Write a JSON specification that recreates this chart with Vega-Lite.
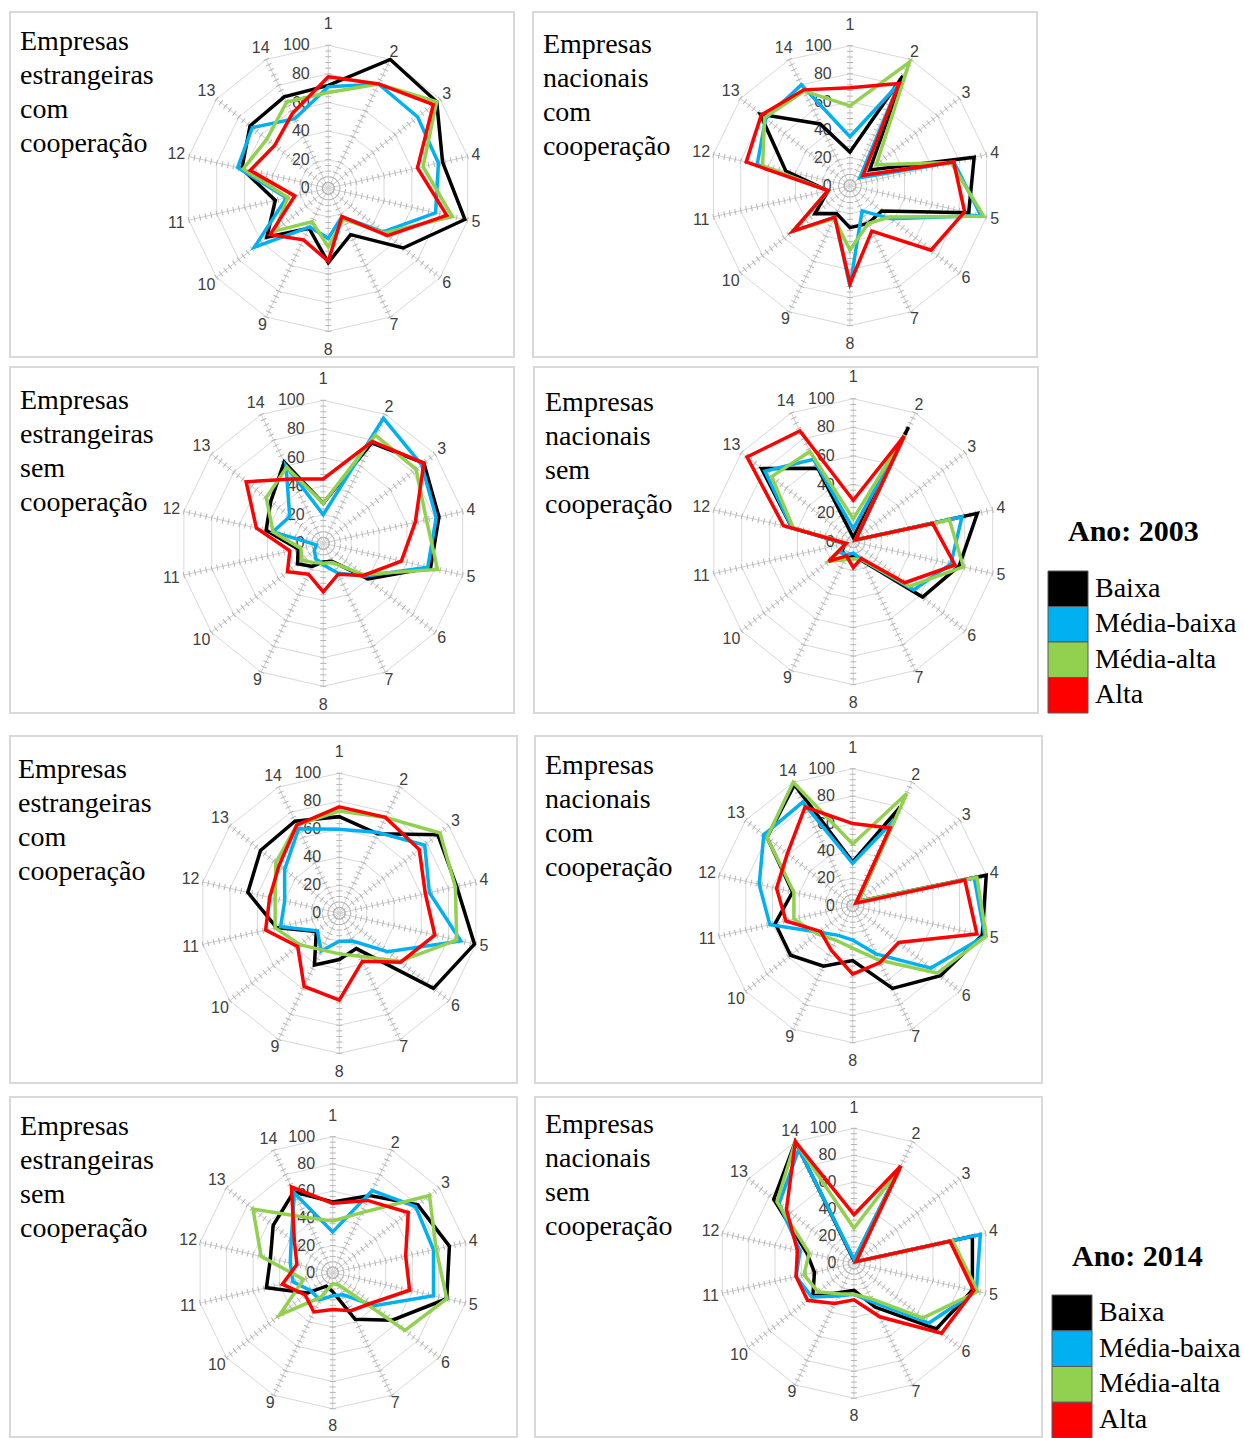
{
"$schema":"https://vega.github.io/schema/vega-lite/v6.json",
"padding":{"left":9,"top":11,"right":0,"bottom":0},
"background":"white",
"config":{"view":{"stroke":"#d9d9d9","strokeWidth":2},"concat":{"spacing":20}},
"datasets":{
"rings":[{"r":20,"k":[1,2,3,4,5,6,7,8,9,10,11,12,13,14]},{"r":40,"k":[1,2,3,4,5,6,7,8,9,10,11,12,13,14]},{"r":60,"k":[1,2,3,4,5,6,7,8,9,10,11,12,13,14]},{"r":80,"k":[1,2,3,4,5,6,7,8,9,10,11,12,13,14]},{"r":100,"k":[1,2,3,4,5,6,7,8,9,10,11,12,13,14]}],
"spokes":[{"k":1},{"k":2},{"k":3},{"k":4},{"k":5},{"k":6},{"k":7},{"k":8},{"k":9},{"k":10},{"k":11},{"k":12},{"k":13},{"k":14}],
"ticks":[
{"k":1,"t":[4,8,12,16,20,24,28,32,36,40,44,48,52,56,60,64,68,72,76,80,84,88,92,96,100]},
{"k":2,"t":[4,8,12,16,20,24,28,32,36,40,44,48,52,56,60,64,68,72,76,80,84,88,92,96,100]},
{"k":3,"t":[4,8,12,16,20,24,28,32,36,40,44,48,52,56,60,64,68,72,76,80,84,88,92,96,100]},
{"k":4,"t":[4,8,12,16,20,24,28,32,36,40,44,48,52,56,60,64,68,72,76,80,84,88,92,96,100]},
{"k":5,"t":[4,8,12,16,20,24,28,32,36,40,44,48,52,56,60,64,68,72,76,80,84,88,92,96,100]},
{"k":6,"t":[4,8,12,16,20,24,28,32,36,40,44,48,52,56,60,64,68,72,76,80,84,88,92,96,100]},
{"k":7,"t":[4,8,12,16,20,24,28,32,36,40,44,48,52,56,60,64,68,72,76,80,84,88,92,96,100]},
{"k":8,"t":[4,8,12,16,20,24,28,32,36,40,44,48,52,56,60,64,68,72,76,80,84,88,92,96,100]},
{"k":9,"t":[4,8,12,16,20,24,28,32,36,40,44,48,52,56,60,64,68,72,76,80,84,88,92,96,100]},
{"k":10,"t":[4,8,12,16,20,24,28,32,36,40,44,48,52,56,60,64,68,72,76,80,84,88,92,96,100]},
{"k":11,"t":[4,8,12,16,20,24,28,32,36,40,44,48,52,56,60,64,68,72,76,80,84,88,92,96,100]},
{"k":12,"t":[4,8,12,16,20,24,28,32,36,40,44,48,52,56,60,64,68,72,76,80,84,88,92,96,100]},
{"k":13,"t":[4,8,12,16,20,24,28,32,36,40,44,48,52,56,60,64,68,72,76,80,84,88,92,96,100]},
{"k":14,"t":[4,8,12,16,20,24,28,32,36,40,44,48,52,56,60,64,68,72,76,80,84,88,92,96,100]}],
"levels":[{"r":0},{"r":20},{"r":40},{"r":60},{"r":80},{"r":100}],
"legend":[{"s":"Baixa"},{"s":"Média-baixa"},{"s":"Média-alta"},{"s":"Alta"}],
"vals":[
{"p":1,"s":"Baixa","k":1,"v":72},{"p":1,"s":"Baixa","k":2,"v":100},{"p":1,"s":"Baixa","k":3,"v":97},{"p":1,"s":"Baixa","k":4,"v":82},{"p":1,"s":"Baixa","k":5,"v":98},{"p":1,"s":"Baixa","k":6,"v":67},{"p":1,"s":"Baixa","k":7,"v":36},{"p":1,"s":"Baixa","k":8,"v":52},{"p":1,"s":"Baixa","k":9,"v":31},{"p":1,"s":"Baixa","k":10,"v":55},{"p":1,"s":"Baixa","k":11,"v":38},{"p":1,"s":"Baixa","k":12,"v":62},{"p":1,"s":"Baixa","k":13,"v":70},{"p":1,"s":"Baixa","k":14,"v":71},
{"p":1,"s":"Média-baixa","k":1,"v":71},{"p":1,"s":"Média-baixa","k":2,"v":81},{"p":1,"s":"Média-baixa","k":3,"v":80},{"p":1,"s":"Média-baixa","k":4,"v":79},{"p":1,"s":"Média-baixa","k":5,"v":77},{"p":1,"s":"Média-baixa","k":6,"v":49},{"p":1,"s":"Média-baixa","k":7,"v":22},{"p":1,"s":"Média-baixa","k":8,"v":35},{"p":1,"s":"Média-baixa","k":9,"v":30},{"p":1,"s":"Média-baixa","k":10,"v":66},{"p":1,"s":"Média-baixa","k":11,"v":30},{"p":1,"s":"Média-baixa","k":12,"v":65},{"p":1,"s":"Média-baixa","k":13,"v":68},{"p":1,"s":"Média-baixa","k":14,"v":54},
{"p":1,"s":"Média-alta","k":1,"v":67},{"p":1,"s":"Média-alta","k":2,"v":81},{"p":1,"s":"Média-alta","k":3,"v":97},{"p":1,"s":"Média-alta","k":4,"v":68},{"p":1,"s":"Média-alta","k":5,"v":89},{"p":1,"s":"Média-alta","k":6,"v":50},{"p":1,"s":"Média-alta","k":7,"v":24},{"p":1,"s":"Média-alta","k":8,"v":41},{"p":1,"s":"Média-alta","k":9,"v":26},{"p":1,"s":"Média-alta","k":10,"v":48},{"p":1,"s":"Média-alta","k":11,"v":29},{"p":1,"s":"Média-alta","k":12,"v":61},{"p":1,"s":"Média-alta","k":13,"v":55},{"p":1,"s":"Média-alta","k":14,"v":67},
{"p":1,"s":"Alta","k":1,"v":78},{"p":1,"s":"Alta","k":2,"v":81},{"p":1,"s":"Alta","k":3,"v":94},{"p":1,"s":"Alta","k":4,"v":64},{"p":1,"s":"Alta","k":5,"v":85},{"p":1,"s":"Alta","k":6,"v":53},{"p":1,"s":"Alta","k":7,"v":22},{"p":1,"s":"Alta","k":8,"v":51},{"p":1,"s":"Alta","k":9,"v":40},{"p":1,"s":"Alta","k":10,"v":52},{"p":1,"s":"Alta","k":11,"v":24},{"p":1,"s":"Alta","k":12,"v":56},{"p":1,"s":"Alta","k":13,"v":48},{"p":1,"s":"Alta","k":14,"v":58},
{"p":2,"s":"Baixa","k":1,"v":24},{"p":2,"s":"Baixa","k":2,"v":87},{"p":2,"s":"Baixa","k":3,"v":18},{"p":2,"s":"Baixa","k":4,"v":91},{"p":2,"s":"Baixa","k":5,"v":87},{"p":2,"s":"Baixa","k":6,"v":29},{"p":2,"s":"Baixa","k":7,"v":30},{"p":2,"s":"Baixa","k":8,"v":30},{"p":2,"s":"Baixa","k":9,"v":22},{"p":2,"s":"Baixa","k":10,"v":32},{"p":2,"s":"Baixa","k":11,"v":16},{"p":2,"s":"Baixa","k":12,"v":47},{"p":2,"s":"Baixa","k":13,"v":82},{"p":2,"s":"Baixa","k":14,"v":49},
{"p":2,"s":"Média-baixa","k":1,"v":35},{"p":2,"s":"Média-baixa","k":2,"v":81},{"p":2,"s":"Média-baixa","k":3,"v":9},{"p":2,"s":"Média-baixa","k":4,"v":76},{"p":2,"s":"Média-baixa","k":5,"v":96},{"p":2,"s":"Média-baixa","k":6,"v":38},{"p":2,"s":"Média-baixa","k":7,"v":20},{"p":2,"s":"Média-baixa","k":8,"v":72},{"p":2,"s":"Média-baixa","k":9,"v":25},{"p":2,"s":"Média-baixa","k":10,"v":52},{"p":2,"s":"Média-baixa","k":11,"v":16},{"p":2,"s":"Média-baixa","k":12,"v":68},{"p":2,"s":"Média-baixa","k":13,"v":77},{"p":2,"s":"Média-baixa","k":14,"v":80},
{"p":2,"s":"Média-alta","k":1,"v":57},{"p":2,"s":"Média-alta","k":2,"v":98},{"p":2,"s":"Média-alta","k":3,"v":24},{"p":2,"s":"Média-alta","k":4,"v":74},{"p":2,"s":"Média-alta","k":5,"v":98},{"p":2,"s":"Média-alta","k":6,"v":36},{"p":2,"s":"Média-alta","k":7,"v":30},{"p":2,"s":"Média-alta","k":8,"v":46},{"p":2,"s":"Média-alta","k":9,"v":26},{"p":2,"s":"Média-alta","k":10,"v":52},{"p":2,"s":"Média-alta","k":11,"v":16},{"p":2,"s":"Média-alta","k":12,"v":64},{"p":2,"s":"Média-alta","k":13,"v":78},{"p":2,"s":"Média-alta","k":14,"v":75},
{"p":2,"s":"Alta","k":1,"v":70},{"p":2,"s":"Alta","k":2,"v":81},{"p":2,"s":"Alta","k":3,"v":12},{"p":2,"s":"Alta","k":4,"v":76},{"p":2,"s":"Alta","k":5,"v":84},{"p":2,"s":"Alta","k":6,"v":74},{"p":2,"s":"Alta","k":7,"v":36},{"p":2,"s":"Alta","k":8,"v":70},{"p":2,"s":"Alta","k":9,"v":25},{"p":2,"s":"Alta","k":10,"v":52},{"p":2,"s":"Alta","k":11,"v":16},{"p":2,"s":"Alta","k":12,"v":76},{"p":2,"s":"Alta","k":13,"v":81},{"p":2,"s":"Alta","k":14,"v":76},
{"p":3,"s":"Baixa","k":1,"v":28},{"p":3,"s":"Baixa","k":2,"v":78},{"p":3,"s":"Baixa","k":3,"v":90},{"p":3,"s":"Baixa","k":4,"v":83},{"p":3,"s":"Baixa","k":5,"v":77},{"p":3,"s":"Baixa","k":6,"v":40},{"p":3,"s":"Baixa","k":7,"v":14},{"p":3,"s":"Baixa","k":8,"v":13},{"p":3,"s":"Baixa","k":9,"v":18},{"p":3,"s":"Baixa","k":10,"v":23},{"p":3,"s":"Baixa","k":11,"v":18},{"p":3,"s":"Baixa","k":12,"v":41},{"p":3,"s":"Baixa","k":13,"v":47},{"p":3,"s":"Baixa","k":14,"v":63},
{"p":3,"s":"Média-baixa","k":1,"v":20},{"p":3,"s":"Média-baixa","k":2,"v":97},{"p":3,"s":"Média-baixa","k":3,"v":88},{"p":3,"s":"Média-baixa","k":4,"v":81},{"p":3,"s":"Média-baixa","k":5,"v":75},{"p":3,"s":"Média-baixa","k":6,"v":37},{"p":3,"s":"Média-baixa","k":7,"v":23},{"p":3,"s":"Média-baixa","k":8,"v":15},{"p":3,"s":"Média-baixa","k":9,"v":12},{"p":3,"s":"Média-baixa","k":10,"v":8},{"p":3,"s":"Média-baixa","k":11,"v":5},{"p":3,"s":"Média-baixa","k":12,"v":36},{"p":3,"s":"Média-baixa","k":13,"v":30},{"p":3,"s":"Média-baixa","k":14,"v":60},
{"p":3,"s":"Média-alta","k":1,"v":28},{"p":3,"s":"Média-alta","k":2,"v":84},{"p":3,"s":"Média-alta","k":3,"v":83},{"p":3,"s":"Média-alta","k":4,"v":74},{"p":3,"s":"Média-alta","k":5,"v":82},{"p":3,"s":"Média-alta","k":6,"v":35},{"p":3,"s":"Média-alta","k":7,"v":15},{"p":3,"s":"Média-alta","k":8,"v":14},{"p":3,"s":"Média-alta","k":9,"v":15},{"p":3,"s":"Média-alta","k":10,"v":19},{"p":3,"s":"Média-alta","k":11,"v":16},{"p":3,"s":"Média-alta","k":12,"v":36},{"p":3,"s":"Média-alta","k":13,"v":51},{"p":3,"s":"Média-alta","k":14,"v":59},
{"p":3,"s":"Alta","k":1,"v":45},{"p":3,"s":"Alta","k":2,"v":79},{"p":3,"s":"Alta","k":3,"v":90},{"p":3,"s":"Alta","k":4,"v":66},{"p":3,"s":"Alta","k":5,"v":56},{"p":3,"s":"Alta","k":6,"v":36},{"p":3,"s":"Alta","k":7,"v":24},{"p":3,"s":"Alta","k":8,"v":34},{"p":3,"s":"Alta","k":9,"v":24},{"p":3,"s":"Alta","k":10,"v":32},{"p":3,"s":"Alta","k":11,"v":24},{"p":3,"s":"Alta","k":12,"v":48},{"p":3,"s":"Alta","k":13,"v":69},{"p":3,"s":"Alta","k":14,"v":50},
{"p":4,"s":"Baixa","k":1,"v":3},{"p":4,"s":"Baixa","k":2,"v":89},{"p":4,"s":"Baixa","k":3,"v":2},{"p":4,"s":"Baixa","k":4,"v":89},{"p":4,"s":"Baixa","k":5,"v":76},{"p":4,"s":"Baixa","k":6,"v":62},{"p":4,"s":"Baixa","k":7,"v":15},{"p":4,"s":"Baixa","k":8,"v":10},{"p":4,"s":"Baixa","k":9,"v":12},{"p":4,"s":"Baixa","k":10,"v":10},{"p":4,"s":"Baixa","k":11,"v":6},{"p":4,"s":"Baixa","k":12,"v":44},{"p":4,"s":"Baixa","k":13,"v":82},{"p":4,"s":"Baixa","k":14,"v":57},
{"p":4,"s":"Média-baixa","k":1,"v":9},{"p":4,"s":"Média-baixa","k":2,"v":82},{"p":4,"s":"Média-baixa","k":3,"v":2},{"p":4,"s":"Média-baixa","k":4,"v":78},{"p":4,"s":"Média-baixa","k":5,"v":70},{"p":4,"s":"Média-baixa","k":6,"v":54},{"p":4,"s":"Média-baixa","k":7,"v":14},{"p":4,"s":"Média-baixa","k":8,"v":8},{"p":4,"s":"Média-baixa","k":9,"v":10},{"p":4,"s":"Média-baixa","k":10,"v":12},{"p":4,"s":"Média-baixa","k":11,"v":6},{"p":4,"s":"Média-baixa","k":12,"v":44},{"p":4,"s":"Média-baixa","k":13,"v":79},{"p":4,"s":"Média-baixa","k":14,"v":64},
{"p":4,"s":"Média-alta","k":1,"v":16},{"p":4,"s":"Média-alta","k":2,"v":83},{"p":4,"s":"Média-alta","k":3,"v":2},{"p":4,"s":"Média-alta","k":4,"v":69},{"p":4,"s":"Média-alta","k":5,"v":79},{"p":4,"s":"Média-alta","k":6,"v":50},{"p":4,"s":"Média-alta","k":7,"v":14},{"p":4,"s":"Média-alta","k":8,"v":12},{"p":4,"s":"Média-alta","k":9,"v":14},{"p":4,"s":"Média-alta","k":10,"v":22},{"p":4,"s":"Média-alta","k":11,"v":5},{"p":4,"s":"Média-alta","k":12,"v":43},{"p":4,"s":"Média-alta","k":13,"v":73},{"p":4,"s":"Média-alta","k":14,"v":70},
{"p":4,"s":"Alta","k":1,"v":29},{"p":4,"s":"Alta","k":2,"v":82},{"p":4,"s":"Alta","k":3,"v":2},{"p":4,"s":"Alta","k":4,"v":57},{"p":4,"s":"Alta","k":5,"v":73},{"p":4,"s":"Alta","k":6,"v":46},{"p":4,"s":"Alta","k":7,"v":13},{"p":4,"s":"Alta","k":8,"v":18},{"p":4,"s":"Alta","k":9,"v":11},{"p":4,"s":"Alta","k":10,"v":22},{"p":4,"s":"Alta","k":11,"v":5},{"p":4,"s":"Alta","k":12,"v":50},{"p":4,"s":"Alta","k":13,"v":95},{"p":4,"s":"Alta","k":14,"v":86},
{"p":5,"s":"Baixa","k":1,"v":69},{"p":5,"s":"Baixa","k":2,"v":63},{"p":5,"s":"Baixa","k":3,"v":90},{"p":5,"s":"Baixa","k":4,"v":86},{"p":5,"s":"Baixa","k":5,"v":99},{"p":5,"s":"Baixa","k":6,"v":86},{"p":5,"s":"Baixa","k":7,"v":28},{"p":5,"s":"Baixa","k":8,"v":33},{"p":5,"s":"Baixa","k":9,"v":41},{"p":5,"s":"Baixa","k":10,"v":21},{"p":5,"s":"Baixa","k":11,"v":46},{"p":5,"s":"Baixa","k":12,"v":67},{"p":5,"s":"Baixa","k":13,"v":72},{"p":5,"s":"Baixa","k":14,"v":73},
{"p":5,"s":"Média-baixa","k":1,"v":60},{"p":5,"s":"Média-baixa","k":2,"v":64},{"p":5,"s":"Média-baixa","k":3,"v":78},{"p":5,"s":"Média-baixa","k":4,"v":66},{"p":5,"s":"Média-baixa","k":5,"v":89},{"p":5,"s":"Média-baixa","k":6,"v":44},{"p":5,"s":"Média-baixa","k":7,"v":22},{"p":5,"s":"Média-baixa","k":8,"v":20},{"p":5,"s":"Média-baixa","k":9,"v":30},{"p":5,"s":"Média-baixa","k":10,"v":20},{"p":5,"s":"Média-baixa","k":11,"v":43},{"p":5,"s":"Média-baixa","k":12,"v":40},{"p":5,"s":"Média-baixa","k":13,"v":50},{"p":5,"s":"Média-baixa","k":14,"v":67},
{"p":5,"s":"Média-alta","k":1,"v":73},{"p":5,"s":"Média-alta","k":2,"v":76},{"p":5,"s":"Média-alta","k":3,"v":92},{"p":5,"s":"Média-alta","k":4,"v":85},{"p":5,"s":"Média-alta","k":5,"v":86},{"p":5,"s":"Média-alta","k":6,"v":55},{"p":5,"s":"Média-alta","k":7,"v":34},{"p":5,"s":"Média-alta","k":8,"v":29},{"p":5,"s":"Média-alta","k":9,"v":29},{"p":5,"s":"Média-alta","k":10,"v":36},{"p":5,"s":"Média-alta","k":11,"v":47},{"p":5,"s":"Média-alta","k":12,"v":47},{"p":5,"s":"Média-alta","k":13,"v":58},{"p":5,"s":"Média-alta","k":14,"v":70},
{"p":5,"s":"Alta","k":1,"v":76},{"p":5,"s":"Alta","k":2,"v":76},{"p":5,"s":"Alta","k":3,"v":73},{"p":5,"s":"Alta","k":4,"v":63},{"p":5,"s":"Alta","k":5,"v":70},{"p":5,"s":"Alta","k":6,"v":56},{"p":5,"s":"Alta","k":7,"v":38},{"p":5,"s":"Alta","k":8,"v":62},{"p":5,"s":"Alta","k":9,"v":58},{"p":5,"s":"Alta","k":10,"v":38},{"p":5,"s":"Alta","k":11,"v":54},{"p":5,"s":"Alta","k":12,"v":51},{"p":5,"s":"Alta","k":13,"v":55},{"p":5,"s":"Alta","k":14,"v":70},
{"p":6,"s":"Baixa","k":1,"v":32},{"p":6,"s":"Baixa","k":2,"v":80},{"p":6,"s":"Baixa","k":3,"v":5},{"p":6,"s":"Baixa","k":4,"v":100},{"p":6,"s":"Baixa","k":5,"v":97},{"p":6,"s":"Baixa","k":6,"v":82},{"p":6,"s":"Baixa","k":7,"v":67},{"p":6,"s":"Baixa","k":8,"v":40},{"p":6,"s":"Baixa","k":9,"v":49},{"p":6,"s":"Baixa","k":10,"v":58},{"p":6,"s":"Baixa","k":11,"v":58},{"p":6,"s":"Baixa","k":12,"v":45},{"p":6,"s":"Baixa","k":13,"v":80},{"p":6,"s":"Baixa","k":14,"v":98},
{"p":6,"s":"Média-baixa","k":1,"v":31},{"p":6,"s":"Média-baixa","k":2,"v":69},{"p":6,"s":"Média-baixa","k":3,"v":5},{"p":6,"s":"Média-baixa","k":4,"v":91},{"p":6,"s":"Média-baixa","k":5,"v":99},{"p":6,"s":"Média-baixa","k":6,"v":73},{"p":6,"s":"Média-baixa","k":7,"v":39},{"p":6,"s":"Média-baixa","k":8,"v":25},{"p":6,"s":"Média-baixa","k":9,"v":24},{"p":6,"s":"Média-baixa","k":10,"v":31},{"p":6,"s":"Média-baixa","k":11,"v":62},{"p":6,"s":"Média-baixa","k":12,"v":70},{"p":6,"s":"Média-baixa","k":13,"v":83},{"p":6,"s":"Média-baixa","k":14,"v":84},
{"p":6,"s":"Média-alta","k":1,"v":45},{"p":6,"s":"Média-alta","k":2,"v":91},{"p":6,"s":"Média-alta","k":3,"v":5},{"p":6,"s":"Média-alta","k":4,"v":93},{"p":6,"s":"Média-alta","k":5,"v":100},{"p":6,"s":"Média-alta","k":6,"v":79},{"p":6,"s":"Média-alta","k":7,"v":44},{"p":6,"s":"Média-alta","k":8,"v":31},{"p":6,"s":"Média-alta","k":9,"v":28},{"p":6,"s":"Média-alta","k":10,"v":33},{"p":6,"s":"Média-alta","k":11,"v":44},{"p":6,"s":"Média-alta","k":12,"v":44},{"p":6,"s":"Média-alta","k":13,"v":80},{"p":6,"s":"Média-alta","k":14,"v":100},
{"p":6,"s":"Alta","k":1,"v":60},{"p":6,"s":"Alta","k":2,"v":63},{"p":6,"s":"Alta","k":3,"v":3},{"p":6,"s":"Alta","k":4,"v":84},{"p":6,"s":"Alta","k":5,"v":93},{"p":6,"s":"Alta","k":6,"v":43},{"p":6,"s":"Alta","k":7,"v":46},{"p":6,"s":"Alta","k":8,"v":50},{"p":6,"s":"Alta","k":9,"v":36},{"p":6,"s":"Alta","k":10,"v":30},{"p":6,"s":"Alta","k":11,"v":50},{"p":6,"s":"Alta","k":12,"v":57},{"p":6,"s":"Alta","k":13,"v":61},{"p":6,"s":"Alta","k":14,"v":80},
{"p":7,"s":"Baixa","k":1,"v":52},{"p":7,"s":"Baixa","k":2,"v":63},{"p":7,"s":"Baixa","k":3,"v":80},{"p":7,"s":"Baixa","k":4,"v":88},{"p":7,"s":"Baixa","k":5,"v":86},{"p":7,"s":"Baixa","k":6,"v":56},{"p":7,"s":"Baixa","k":7,"v":38},{"p":7,"s":"Baixa","k":8,"v":14},{"p":7,"s":"Baixa","k":9,"v":11},{"p":7,"s":"Baixa","k":10,"v":24},{"p":7,"s":"Baixa","k":11,"v":50},{"p":7,"s":"Baixa","k":12,"v":47},{"p":7,"s":"Baixa","k":13,"v":56},{"p":7,"s":"Baixa","k":14,"v":66},
{"p":7,"s":"Média-baixa","k":1,"v":30},{"p":7,"s":"Média-baixa","k":2,"v":67},{"p":7,"s":"Média-baixa","k":3,"v":78},{"p":7,"s":"Média-baixa","k":4,"v":76},{"p":7,"s":"Média-baixa","k":5,"v":76},{"p":7,"s":"Média-baixa","k":6,"v":39},{"p":7,"s":"Média-baixa","k":7,"v":18},{"p":7,"s":"Média-baixa","k":8,"v":17},{"p":7,"s":"Média-baixa","k":9,"v":22},{"p":7,"s":"Média-baixa","k":10,"v":21},{"p":7,"s":"Média-baixa","k":11,"v":30},{"p":7,"s":"Média-baixa","k":12,"v":32},{"p":7,"s":"Média-baixa","k":13,"v":39},{"p":7,"s":"Média-baixa","k":14,"v":65},
{"p":7,"s":"Média-alta","k":1,"v":38},{"p":7,"s":"Média-alta","k":2,"v":49},{"p":7,"s":"Média-alta","k":3,"v":91},{"p":7,"s":"Média-alta","k":4,"v":78},{"p":7,"s":"Média-alta","k":5,"v":86},{"p":7,"s":"Média-alta","k":6,"v":68},{"p":7,"s":"Média-alta","k":7,"v":10},{"p":7,"s":"Média-alta","k":8,"v":8},{"p":7,"s":"Média-alta","k":9,"v":20},{"p":7,"s":"Média-alta","k":10,"v":50},{"p":7,"s":"Média-alta","k":11,"v":22},{"p":7,"s":"Média-alta","k":12,"v":54},{"p":7,"s":"Média-alta","k":13,"v":75},{"p":7,"s":"Média-alta","k":14,"v":45},
{"p":7,"s":"Alta","k":1,"v":51},{"p":7,"s":"Alta","k":2,"v":59},{"p":7,"s":"Alta","k":3,"v":71},{"p":7,"s":"Alta","k":4,"v":55},{"p":7,"s":"Alta","k":5,"v":58},{"p":7,"s":"Alta","k":6,"v":36},{"p":7,"s":"Alta","k":7,"v":31},{"p":7,"s":"Alta","k":8,"v":27},{"p":7,"s":"Alta","k":9,"v":32},{"p":7,"s":"Alta","k":10,"v":26},{"p":7,"s":"Alta","k":11,"v":38},{"p":7,"s":"Alta","k":12,"v":27},{"p":7,"s":"Alta","k":13,"v":36},{"p":7,"s":"Alta","k":14,"v":70},
{"p":8,"s":"Baixa","k":1,"v":2},{"p":8,"s":"Baixa","k":2,"v":78},{"p":8,"s":"Baixa","k":3,"v":2},{"p":8,"s":"Baixa","k":4,"v":90},{"p":8,"s":"Baixa","k":5,"v":90},{"p":8,"s":"Baixa","k":6,"v":78},{"p":8,"s":"Baixa","k":7,"v":36},{"p":8,"s":"Baixa","k":8,"v":20},{"p":8,"s":"Baixa","k":9,"v":24},{"p":8,"s":"Baixa","k":10,"v":39},{"p":8,"s":"Baixa","k":11,"v":30},{"p":8,"s":"Baixa","k":12,"v":36},{"p":8,"s":"Baixa","k":13,"v":76},{"p":8,"s":"Baixa","k":14,"v":100},
{"p":8,"s":"Média-baixa","k":1,"v":3},{"p":8,"s":"Média-baixa","k":2,"v":78},{"p":8,"s":"Média-baixa","k":3,"v":2},{"p":8,"s":"Média-baixa","k":4,"v":96},{"p":8,"s":"Média-baixa","k":5,"v":93},{"p":8,"s":"Média-baixa","k":6,"v":71},{"p":8,"s":"Média-baixa","k":7,"v":32},{"p":8,"s":"Média-baixa","k":8,"v":23},{"p":8,"s":"Média-baixa","k":9,"v":27},{"p":8,"s":"Média-baixa","k":10,"v":40},{"p":8,"s":"Média-baixa","k":11,"v":44},{"p":8,"s":"Média-baixa","k":12,"v":41},{"p":8,"s":"Média-baixa","k":13,"v":71},{"p":8,"s":"Média-baixa","k":14,"v":94},
{"p":8,"s":"Média-alta","k":1,"v":26},{"p":8,"s":"Média-alta","k":2,"v":77},{"p":8,"s":"Média-alta","k":3,"v":2},{"p":8,"s":"Média-alta","k":4,"v":75},{"p":8,"s":"Média-alta","k":5,"v":94},{"p":8,"s":"Média-alta","k":6,"v":65},{"p":8,"s":"Média-alta","k":7,"v":29},{"p":8,"s":"Média-alta","k":8,"v":23},{"p":8,"s":"Média-alta","k":9,"v":25},{"p":8,"s":"Média-alta","k":10,"v":34},{"p":8,"s":"Média-alta","k":11,"v":38},{"p":8,"s":"Média-alta","k":12,"v":34},{"p":8,"s":"Média-alta","k":13,"v":73},{"p":8,"s":"Média-alta","k":14,"v":100},
{"p":8,"s":"Alta","k":1,"v":36},{"p":8,"s":"Alta","k":2,"v":80},{"p":8,"s":"Alta","k":3,"v":2},{"p":8,"s":"Alta","k":4,"v":73},{"p":8,"s":"Alta","k":5,"v":91},{"p":8,"s":"Alta","k":6,"v":83},{"p":8,"s":"Alta","k":7,"v":44},{"p":8,"s":"Alta","k":8,"v":27},{"p":8,"s":"Alta","k":9,"v":33},{"p":8,"s":"Alta","k":10,"v":44},{"p":8,"s":"Alta","k":11,"v":44},{"p":8,"s":"Alta","k":12,"v":43},{"p":8,"s":"Alta","k":13,"v":64},{"p":8,"s":"Alta","k":14,"v":100}
]},
"spacing":21,
"vconcat":[
{"spacing":8,"vconcat":[
{"spacing":19,"bounds":"flush","hconcat":[
{"width":504,"height":345,
"encoding":{"x":{"field":"px","type":"quantitative","scale":{"domain":[-222.6,129.9],"nice":false,"zero":false},"axis":null},"y":{"field":"py","type":"quantitative","scale":{"domain":[-118.0,123.3],"nice":false,"zero":false},"axis":null}},
"layer":[
{"data":{"name":"rings"},"transform":[{"flatten":["k"]},{"calculate":"(datum.k-1)*2*PI/14","as":"a"},{"calculate":"datum.r*sin(datum.a)","as":"px"},{"calculate":"datum.r*cos(datum.a)","as":"py"}],"mark":{"type":"line","interpolate":"linear-closed","stroke":"#d9d9d9","strokeWidth":1},"encoding":{"detail":{"field":"r","type":"quantitative"},"order":{"field":"k","type":"quantitative"}}},
{"data":{"name":"spokes"},"transform":[{"calculate":"(datum.k-1)*2*PI/14","as":"a"},{"calculate":"0","as":"px"},{"calculate":"0","as":"py"},{"calculate":"100*sin(datum.a)","as":"ex"},{"calculate":"100*cos(datum.a)","as":"ey"}],"mark":{"type":"rule","stroke":"#d0d0d0","strokeWidth":1},"encoding":{"x2":{"field":"ex"},"y2":{"field":"ey"}}},
{"data":{"name":"ticks"},"transform":[{"flatten":["t"]},{"calculate":"(datum.k-1)*2*PI/14","as":"a"},{"calculate":"datum.t*sin(datum.a)","as":"px"},{"calculate":"datum.t*cos(datum.a)","as":"py"},{"calculate":"(datum.k-1)*360/14","as":"ang"}],"mark":{"type":"point","shape":"stroke","size":36,"filled":false,"stroke":"#b4b4b4","strokeWidth":1,"opacity":1},"encoding":{"angle":{"field":"ang","type":"quantitative","scale":null}}},
{"data":{"name":"spokes"},"transform":[{"calculate":"(datum.k-1)*2*PI/14","as":"a"},{"calculate":"106+(datum.k==1?9:0)+(datum.k==8?7:0)+(datum.k>=10?3:0)","as":"rr"},{"calculate":"datum.rr*sin(datum.a)","as":"px"},{"calculate":"datum.rr*cos(datum.a)","as":"py"}],"mark":{"type":"text","clip":true,"font":"Liberation Sans","fontSize":16,"fill":"#404040","align":"center","baseline":"middle"},"encoding":{"text":{"field":"k","type":"nominal"}}},
{"data":{"name":"levels"},"transform":[{"calculate":"-13","as":"px"},{"calculate":"datum.r","as":"py"}],"mark":{"type":"text","font":"Liberation Sans","fontSize":16,"fill":"#404040","align":"right","baseline":"middle"},"encoding":{"text":{"field":"r","type":"nominal"}}},
{"data":{"name":"vals"},"transform":[{"filter":"datum.p==1"},{"calculate":"(datum.k-1)*2*PI/14","as":"a"},{"calculate":"datum.v*sin(datum.a)","as":"px"},{"calculate":"datum.v*cos(datum.a)","as":"py"}],"mark":{"type":"line","interpolate":"linear-closed","strokeWidth":3.5},"encoding":{"color":{"field":"s","type":"nominal","scale":{"domain":["Baixa","Média-baixa","Média-alta","Alta"],"range":["#000000","#00b0f0","#92d050","#ff0000"]},"legend":null},"order":{"field":"k","type":"quantitative"}}},
{"data":{"values":[{"t":"Empresas\nestrangeiras\ncom\ncooperação"}]},"transform":[{"calculate":"-215.6","as":"px"},{"calculate":"96.4","as":"py"}],"mark":{"type":"text","font":"Liberation Serif","fontSize":28,"lineBreak":"\n","lineHeight":34,"align":"left","baseline":"alphabetic","fill":"#000000"},"encoding":{"text":{"field":"t","type":"nominal"}}}
]},
{"width":504,"height":345,
"encoding":{"x":{"field":"px","type":"quantitative","scale":{"domain":[-226.4,133.6],"nice":false,"zero":false},"axis":null},"y":{"field":"py","type":"quantitative","scale":{"domain":[-122.4,124.1],"nice":false,"zero":false},"axis":null}},
"layer":[
{"data":{"name":"rings"},"transform":[{"flatten":["k"]},{"calculate":"(datum.k-1)*2*PI/14","as":"a"},{"calculate":"datum.r*sin(datum.a)","as":"px"},{"calculate":"datum.r*cos(datum.a)","as":"py"}],"mark":{"type":"line","interpolate":"linear-closed","stroke":"#d9d9d9","strokeWidth":1},"encoding":{"detail":{"field":"r","type":"quantitative"},"order":{"field":"k","type":"quantitative"}}},
{"data":{"name":"spokes"},"transform":[{"calculate":"(datum.k-1)*2*PI/14","as":"a"},{"calculate":"0","as":"px"},{"calculate":"0","as":"py"},{"calculate":"100*sin(datum.a)","as":"ex"},{"calculate":"100*cos(datum.a)","as":"ey"}],"mark":{"type":"rule","stroke":"#d0d0d0","strokeWidth":1},"encoding":{"x2":{"field":"ex"},"y2":{"field":"ey"}}},
{"data":{"name":"ticks"},"transform":[{"flatten":["t"]},{"calculate":"(datum.k-1)*2*PI/14","as":"a"},{"calculate":"datum.t*sin(datum.a)","as":"px"},{"calculate":"datum.t*cos(datum.a)","as":"py"},{"calculate":"(datum.k-1)*360/14","as":"ang"}],"mark":{"type":"point","shape":"stroke","size":36,"filled":false,"stroke":"#b4b4b4","strokeWidth":1,"opacity":1},"encoding":{"angle":{"field":"ang","type":"quantitative","scale":null}}},
{"data":{"name":"spokes"},"transform":[{"calculate":"(datum.k-1)*2*PI/14","as":"a"},{"calculate":"106+(datum.k==1?9:0)+(datum.k==8?7:0)+(datum.k>=10?3:0)","as":"rr"},{"calculate":"datum.rr*sin(datum.a)","as":"px"},{"calculate":"datum.rr*cos(datum.a)","as":"py"}],"mark":{"type":"text","clip":true,"font":"Liberation Sans","fontSize":16,"fill":"#404040","align":"center","baseline":"middle"},"encoding":{"text":{"field":"k","type":"nominal"}}},
{"data":{"name":"levels"},"transform":[{"calculate":"-13","as":"px"},{"calculate":"datum.r","as":"py"}],"mark":{"type":"text","font":"Liberation Sans","fontSize":16,"fill":"#404040","align":"right","baseline":"middle"},"encoding":{"text":{"field":"r","type":"nominal"}}},
{"data":{"name":"vals"},"transform":[{"filter":"datum.p==2"},{"calculate":"(datum.k-1)*2*PI/14","as":"a"},{"calculate":"datum.v*sin(datum.a)","as":"px"},{"calculate":"datum.v*cos(datum.a)","as":"py"}],"mark":{"type":"line","interpolate":"linear-closed","strokeWidth":3.5},"encoding":{"color":{"field":"s","type":"nominal","scale":{"domain":["Baixa","Média-baixa","Média-alta","Alta"],"range":["#000000","#00b0f0","#92d050","#ff0000"]},"legend":null},"order":{"field":"k","type":"quantitative"}}},
{"data":{"values":[{"t":"Empresas\nnacionais\ncom\ncooperação"}]},"transform":[{"calculate":"-219.3","as":"px"},{"calculate":"94.5","as":"py"}],"mark":{"type":"text","font":"Liberation Serif","fontSize":28,"lineBreak":"\n","lineHeight":34,"align":"left","baseline":"alphabetic","fill":"#000000"},"encoding":{"text":{"field":"t","type":"nominal"}}}
]}
]},
{"spacing":20,"bounds":"flush","hconcat":[
{"width":504,"height":346,
"encoding":{"x":{"field":"px","type":"quantitative","scale":{"domain":[-219.1,133.4],"nice":false,"zero":false},"axis":null},"y":{"field":"py","type":"quantitative","scale":{"domain":[-118.7,123.3],"nice":false,"zero":false},"axis":null}},
"layer":[
{"data":{"name":"rings"},"transform":[{"flatten":["k"]},{"calculate":"(datum.k-1)*2*PI/14","as":"a"},{"calculate":"datum.r*sin(datum.a)","as":"px"},{"calculate":"datum.r*cos(datum.a)","as":"py"}],"mark":{"type":"line","interpolate":"linear-closed","stroke":"#d9d9d9","strokeWidth":1},"encoding":{"detail":{"field":"r","type":"quantitative"},"order":{"field":"k","type":"quantitative"}}},
{"data":{"name":"spokes"},"transform":[{"calculate":"(datum.k-1)*2*PI/14","as":"a"},{"calculate":"0","as":"px"},{"calculate":"0","as":"py"},{"calculate":"100*sin(datum.a)","as":"ex"},{"calculate":"100*cos(datum.a)","as":"ey"}],"mark":{"type":"rule","stroke":"#d0d0d0","strokeWidth":1},"encoding":{"x2":{"field":"ex"},"y2":{"field":"ey"}}},
{"data":{"name":"ticks"},"transform":[{"flatten":["t"]},{"calculate":"(datum.k-1)*2*PI/14","as":"a"},{"calculate":"datum.t*sin(datum.a)","as":"px"},{"calculate":"datum.t*cos(datum.a)","as":"py"},{"calculate":"(datum.k-1)*360/14","as":"ang"}],"mark":{"type":"point","shape":"stroke","size":36,"filled":false,"stroke":"#b4b4b4","strokeWidth":1,"opacity":1},"encoding":{"angle":{"field":"ang","type":"quantitative","scale":null}}},
{"data":{"name":"spokes"},"transform":[{"calculate":"(datum.k-1)*2*PI/14","as":"a"},{"calculate":"106+(datum.k==1?9:0)+(datum.k==8?7:0)+(datum.k>=10?3:0)","as":"rr"},{"calculate":"datum.rr*sin(datum.a)","as":"px"},{"calculate":"datum.rr*cos(datum.a)","as":"py"}],"mark":{"type":"text","clip":true,"font":"Liberation Sans","fontSize":16,"fill":"#404040","align":"center","baseline":"middle"},"encoding":{"text":{"field":"k","type":"nominal"}}},
{"data":{"name":"levels"},"transform":[{"calculate":"-13","as":"px"},{"calculate":"datum.r","as":"py"}],"mark":{"type":"text","font":"Liberation Sans","fontSize":16,"fill":"#404040","align":"right","baseline":"middle"},"encoding":{"text":{"field":"r","type":"nominal"}}},
{"data":{"name":"vals"},"transform":[{"filter":"datum.p==3"},{"calculate":"(datum.k-1)*2*PI/14","as":"a"},{"calculate":"datum.v*sin(datum.a)","as":"px"},{"calculate":"datum.v*cos(datum.a)","as":"py"}],"mark":{"type":"line","interpolate":"linear-closed","strokeWidth":3.5},"encoding":{"color":{"field":"s","type":"nominal","scale":{"domain":["Baixa","Média-baixa","Média-alta","Alta"],"range":["#000000","#00b0f0","#92d050","#ff0000"]},"legend":null},"order":{"field":"k","type":"quantitative"}}},
{"data":{"values":[{"t":"Empresas\nestrangeiras\nsem\ncooperação"}]},"transform":[{"calculate":"-212.1","as":"px"},{"calculate":"93.6","as":"py"}],"mark":{"type":"text","font":"Liberation Serif","fontSize":28,"lineBreak":"\n","lineHeight":34,"align":"left","baseline":"alphabetic","fill":"#000000"},"encoding":{"text":{"field":"t","type":"nominal"}}}
]},
{"width":504,"height":346,
"encoding":{"x":{"field":"px","type":"quantitative","scale":{"domain":[-223.3,129.2],"nice":false,"zero":false},"axis":null},"y":{"field":"py","type":"quantitative","scale":{"domain":[-119.8,122.2],"nice":false,"zero":false},"axis":null}},
"layer":[
{"data":{"name":"rings"},"transform":[{"flatten":["k"]},{"calculate":"(datum.k-1)*2*PI/14","as":"a"},{"calculate":"datum.r*sin(datum.a)","as":"px"},{"calculate":"datum.r*cos(datum.a)","as":"py"}],"mark":{"type":"line","interpolate":"linear-closed","stroke":"#d9d9d9","strokeWidth":1},"encoding":{"detail":{"field":"r","type":"quantitative"},"order":{"field":"k","type":"quantitative"}}},
{"data":{"name":"spokes"},"transform":[{"calculate":"(datum.k-1)*2*PI/14","as":"a"},{"calculate":"0","as":"px"},{"calculate":"0","as":"py"},{"calculate":"100*sin(datum.a)","as":"ex"},{"calculate":"100*cos(datum.a)","as":"ey"}],"mark":{"type":"rule","stroke":"#d0d0d0","strokeWidth":1},"encoding":{"x2":{"field":"ex"},"y2":{"field":"ey"}}},
{"data":{"name":"ticks"},"transform":[{"flatten":["t"]},{"calculate":"(datum.k-1)*2*PI/14","as":"a"},{"calculate":"datum.t*sin(datum.a)","as":"px"},{"calculate":"datum.t*cos(datum.a)","as":"py"},{"calculate":"(datum.k-1)*360/14","as":"ang"}],"mark":{"type":"point","shape":"stroke","size":36,"filled":false,"stroke":"#b4b4b4","strokeWidth":1,"opacity":1},"encoding":{"angle":{"field":"ang","type":"quantitative","scale":null}}},
{"data":{"name":"spokes"},"transform":[{"calculate":"(datum.k-1)*2*PI/14","as":"a"},{"calculate":"106+(datum.k==1?9:0)+(datum.k==8?7:0)+(datum.k>=10?3:0)","as":"rr"},{"calculate":"datum.rr*sin(datum.a)","as":"px"},{"calculate":"datum.rr*cos(datum.a)","as":"py"}],"mark":{"type":"text","clip":true,"font":"Liberation Sans","fontSize":16,"fill":"#404040","align":"center","baseline":"middle"},"encoding":{"text":{"field":"k","type":"nominal"}}},
{"data":{"name":"levels"},"transform":[{"calculate":"-13","as":"px"},{"calculate":"datum.r","as":"py"}],"mark":{"type":"text","font":"Liberation Sans","fontSize":16,"fill":"#404040","align":"right","baseline":"middle"},"encoding":{"text":{"field":"r","type":"nominal"}}},
{"data":{"name":"vals"},"transform":[{"filter":"datum.p==4"},{"calculate":"(datum.k-1)*2*PI/14","as":"a"},{"calculate":"datum.v*sin(datum.a)","as":"px"},{"calculate":"datum.v*cos(datum.a)","as":"py"}],"mark":{"type":"line","interpolate":"linear-closed","strokeWidth":3.5},"encoding":{"color":{"field":"s","type":"nominal","scale":{"domain":["Baixa","Média-baixa","Média-alta","Alta"],"range":["#000000","#00b0f0","#92d050","#ff0000"]},"legend":null},"order":{"field":"k","type":"quantitative"}}},
{"data":{"values":[{"t":"Empresas\nnacionais\nsem\ncooperação"}]},"transform":[{"calculate":"-215.6","as":"px"},{"calculate":"91.7","as":"py"}],"mark":{"type":"text","font":"Liberation Serif","fontSize":28,"lineBreak":"\n","lineHeight":34,"align":"left","baseline":"alphabetic","fill":"#000000"},"encoding":{"text":{"field":"t","type":"nominal"}}}
]},
{"width":180,"height":346,"view":{"stroke":null},
"resolve":{"scale":{"y":"independent"}},
"layer":[
{"data":{"values":[{"t":"Ano: 2003"}]},"mark":{"type":"text","font":"Liberation Serif","fontSize":30,"fontWeight":"bold","align":"left","baseline":"middle","fill":"#000000"},"encoding":{"x":{"datum":10,"type":"quantitative","scale":{"domain":[0,180],"nice":false,"zero":false},"axis":null},"y":{"datum":165,"type":"quantitative","scale":{"domain":[0,346],"reverse":true,"nice":false,"zero":false},"axis":null},"text":{"field":"t","type":"nominal"}}},
{"data":{"name":"legend"},"mark":{"type":"rect","stroke":"#595959","strokeWidth":1},"encoding":{"x":{"datum":-10,"type":"quantitative","scale":{"domain":[0,180],"nice":false,"zero":false},"axis":null},"x2":{"datum":30},"y":{"field":"s","type":"nominal","scale":{"domain":["Baixa","Média-baixa","Média-alta","Alta"],"range":[204,346],"paddingInner":0,"paddingOuter":0},"axis":null},"color":{"field":"s","type":"nominal","scale":{"domain":["Baixa","Média-baixa","Média-alta","Alta"],"range":["#000000","#00b0f0","#92d050","#ff0000"]},"legend":null}}},
{"data":{"name":"legend"},"mark":{"type":"text","font":"Liberation Serif","fontSize":28,"align":"left","baseline":"middle","fill":"#000000"},"encoding":{"x":{"datum":37,"type":"quantitative","scale":{"domain":[0,180],"nice":false,"zero":false},"axis":null},"y":{"field":"s","type":"nominal","scale":{"domain":["Baixa","Média-baixa","Média-alta","Alta"],"range":[204,346],"paddingInner":0,"paddingOuter":0},"axis":null},"text":{"field":"s","type":"nominal"}}}
]}
]}
]},
{"spacing":12,"vconcat":[
{"spacing":18,"bounds":"flush","hconcat":[
{"width":507,"height":347,
"encoding":{"x":{"field":"px","type":"quantitative","scale":{"domain":[-235.2,126.9],"nice":false,"zero":false},"axis":null},"y":{"field":"py","type":"quantitative","scale":{"domain":[-121.2,126.6],"nice":false,"zero":false},"axis":null}},
"layer":[
{"data":{"name":"rings"},"transform":[{"flatten":["k"]},{"calculate":"(datum.k-1)*2*PI/14","as":"a"},{"calculate":"datum.r*sin(datum.a)","as":"px"},{"calculate":"datum.r*cos(datum.a)","as":"py"}],"mark":{"type":"line","interpolate":"linear-closed","stroke":"#d9d9d9","strokeWidth":1},"encoding":{"detail":{"field":"r","type":"quantitative"},"order":{"field":"k","type":"quantitative"}}},
{"data":{"name":"spokes"},"transform":[{"calculate":"(datum.k-1)*2*PI/14","as":"a"},{"calculate":"0","as":"px"},{"calculate":"0","as":"py"},{"calculate":"100*sin(datum.a)","as":"ex"},{"calculate":"100*cos(datum.a)","as":"ey"}],"mark":{"type":"rule","stroke":"#d0d0d0","strokeWidth":1},"encoding":{"x2":{"field":"ex"},"y2":{"field":"ey"}}},
{"data":{"name":"ticks"},"transform":[{"flatten":["t"]},{"calculate":"(datum.k-1)*2*PI/14","as":"a"},{"calculate":"datum.t*sin(datum.a)","as":"px"},{"calculate":"datum.t*cos(datum.a)","as":"py"},{"calculate":"(datum.k-1)*360/14","as":"ang"}],"mark":{"type":"point","shape":"stroke","size":36,"filled":false,"stroke":"#b4b4b4","strokeWidth":1,"opacity":1},"encoding":{"angle":{"field":"ang","type":"quantitative","scale":null}}},
{"data":{"name":"spokes"},"transform":[{"calculate":"(datum.k-1)*2*PI/14","as":"a"},{"calculate":"106+(datum.k==1?9:0)+(datum.k==8?7:0)+(datum.k>=10?3:0)","as":"rr"},{"calculate":"datum.rr*sin(datum.a)","as":"px"},{"calculate":"datum.rr*cos(datum.a)","as":"py"}],"mark":{"type":"text","clip":true,"font":"Liberation Sans","fontSize":16,"fill":"#404040","align":"center","baseline":"middle"},"encoding":{"text":{"field":"k","type":"nominal"}}},
{"data":{"name":"levels"},"transform":[{"calculate":"-13","as":"px"},{"calculate":"datum.r","as":"py"}],"mark":{"type":"text","font":"Liberation Sans","fontSize":16,"fill":"#404040","align":"right","baseline":"middle"},"encoding":{"text":{"field":"r","type":"nominal"}}},
{"data":{"name":"vals"},"transform":[{"filter":"datum.p==5"},{"calculate":"(datum.k-1)*2*PI/14","as":"a"},{"calculate":"datum.v*sin(datum.a)","as":"px"},{"calculate":"datum.v*cos(datum.a)","as":"py"}],"mark":{"type":"line","interpolate":"linear-closed","strokeWidth":3.5},"encoding":{"color":{"field":"s","type":"nominal","scale":{"domain":["Baixa","Média-baixa","Média-alta","Alta"],"range":["#000000","#00b0f0","#92d050","#ff0000"]},"legend":null},"order":{"field":"k","type":"quantitative"}}},
{"data":{"values":[{"t":"Empresas\nestrangeiras\ncom\ncooperação"}]},"transform":[{"calculate":"-229.5","as":"px"},{"calculate":"96.3","as":"py"}],"mark":{"type":"text","font":"Liberation Serif","fontSize":28,"lineBreak":"\n","lineHeight":34,"align":"left","baseline":"alphabetic","fill":"#000000"},"encoding":{"text":{"field":"t","type":"nominal"}}}
]},
{"width":507,"height":347,
"encoding":{"x":{"field":"px","type":"quantitative","scale":{"domain":[-231.9,138.2],"nice":false,"zero":false},"axis":null},"y":{"field":"py","type":"quantitative","scale":{"domain":[-129.4,123.9],"nice":false,"zero":false},"axis":null}},
"layer":[
{"data":{"name":"rings"},"transform":[{"flatten":["k"]},{"calculate":"(datum.k-1)*2*PI/14","as":"a"},{"calculate":"datum.r*sin(datum.a)","as":"px"},{"calculate":"datum.r*cos(datum.a)","as":"py"}],"mark":{"type":"line","interpolate":"linear-closed","stroke":"#d9d9d9","strokeWidth":1},"encoding":{"detail":{"field":"r","type":"quantitative"},"order":{"field":"k","type":"quantitative"}}},
{"data":{"name":"spokes"},"transform":[{"calculate":"(datum.k-1)*2*PI/14","as":"a"},{"calculate":"0","as":"px"},{"calculate":"0","as":"py"},{"calculate":"100*sin(datum.a)","as":"ex"},{"calculate":"100*cos(datum.a)","as":"ey"}],"mark":{"type":"rule","stroke":"#d0d0d0","strokeWidth":1},"encoding":{"x2":{"field":"ex"},"y2":{"field":"ey"}}},
{"data":{"name":"ticks"},"transform":[{"flatten":["t"]},{"calculate":"(datum.k-1)*2*PI/14","as":"a"},{"calculate":"datum.t*sin(datum.a)","as":"px"},{"calculate":"datum.t*cos(datum.a)","as":"py"},{"calculate":"(datum.k-1)*360/14","as":"ang"}],"mark":{"type":"point","shape":"stroke","size":36,"filled":false,"stroke":"#b4b4b4","strokeWidth":1,"opacity":1},"encoding":{"angle":{"field":"ang","type":"quantitative","scale":null}}},
{"data":{"name":"spokes"},"transform":[{"calculate":"(datum.k-1)*2*PI/14","as":"a"},{"calculate":"106+(datum.k==1?9:0)+(datum.k==8?7:0)+(datum.k>=10?3:0)","as":"rr"},{"calculate":"datum.rr*sin(datum.a)","as":"px"},{"calculate":"datum.rr*cos(datum.a)","as":"py"}],"mark":{"type":"text","clip":true,"font":"Liberation Sans","fontSize":16,"fill":"#404040","align":"center","baseline":"middle"},"encoding":{"text":{"field":"k","type":"nominal"}}},
{"data":{"name":"levels"},"transform":[{"calculate":"-13","as":"px"},{"calculate":"datum.r","as":"py"}],"mark":{"type":"text","font":"Liberation Sans","fontSize":16,"fill":"#404040","align":"right","baseline":"middle"},"encoding":{"text":{"field":"r","type":"nominal"}}},
{"data":{"name":"vals"},"transform":[{"filter":"datum.p==6"},{"calculate":"(datum.k-1)*2*PI/14","as":"a"},{"calculate":"datum.v*sin(datum.a)","as":"px"},{"calculate":"datum.v*cos(datum.a)","as":"py"}],"mark":{"type":"line","interpolate":"linear-closed","strokeWidth":3.5},"encoding":{"color":{"field":"s","type":"nominal","scale":{"domain":["Baixa","Média-baixa","Média-alta","Alta"],"range":["#000000","#00b0f0","#92d050","#ff0000"]},"legend":null},"order":{"field":"k","type":"quantitative"}}},
{"data":{"values":[{"t":"Empresas\nnacionais\ncom\ncooperação"}]},"transform":[{"calculate":"-224.6","as":"px"},{"calculate":"95.8","as":"py"}],"mark":{"type":"text","font":"Liberation Serif","fontSize":28,"lineBreak":"\n","lineHeight":34,"align":"left","baseline":"alphabetic","fill":"#000000"},"encoding":{"text":{"field":"t","type":"nominal"}}}
]}
]},
{"spacing":18,"bounds":"flush","hconcat":[
{"width":507,"height":340,
"encoding":{"x":{"field":"px","type":"quantitative","scale":{"domain":[-237.3,135.5],"nice":false,"zero":false},"axis":null},"y":{"field":"py","type":"quantitative","scale":{"domain":[-120.8,129.2],"nice":false,"zero":false},"axis":null}},
"layer":[
{"data":{"name":"rings"},"transform":[{"flatten":["k"]},{"calculate":"(datum.k-1)*2*PI/14","as":"a"},{"calculate":"datum.r*sin(datum.a)","as":"px"},{"calculate":"datum.r*cos(datum.a)","as":"py"}],"mark":{"type":"line","interpolate":"linear-closed","stroke":"#d9d9d9","strokeWidth":1},"encoding":{"detail":{"field":"r","type":"quantitative"},"order":{"field":"k","type":"quantitative"}}},
{"data":{"name":"spokes"},"transform":[{"calculate":"(datum.k-1)*2*PI/14","as":"a"},{"calculate":"0","as":"px"},{"calculate":"0","as":"py"},{"calculate":"100*sin(datum.a)","as":"ex"},{"calculate":"100*cos(datum.a)","as":"ey"}],"mark":{"type":"rule","stroke":"#d0d0d0","strokeWidth":1},"encoding":{"x2":{"field":"ex"},"y2":{"field":"ey"}}},
{"data":{"name":"ticks"},"transform":[{"flatten":["t"]},{"calculate":"(datum.k-1)*2*PI/14","as":"a"},{"calculate":"datum.t*sin(datum.a)","as":"px"},{"calculate":"datum.t*cos(datum.a)","as":"py"},{"calculate":"(datum.k-1)*360/14","as":"ang"}],"mark":{"type":"point","shape":"stroke","size":36,"filled":false,"stroke":"#b4b4b4","strokeWidth":1,"opacity":1},"encoding":{"angle":{"field":"ang","type":"quantitative","scale":null}}},
{"data":{"name":"spokes"},"transform":[{"calculate":"(datum.k-1)*2*PI/14","as":"a"},{"calculate":"106+(datum.k==1?9:0)+(datum.k==8?7:0)+(datum.k>=10?3:0)","as":"rr"},{"calculate":"datum.rr*sin(datum.a)","as":"px"},{"calculate":"datum.rr*cos(datum.a)","as":"py"}],"mark":{"type":"text","clip":true,"font":"Liberation Sans","fontSize":16,"fill":"#404040","align":"center","baseline":"middle"},"encoding":{"text":{"field":"k","type":"nominal"}}},
{"data":{"name":"levels"},"transform":[{"calculate":"-13","as":"px"},{"calculate":"datum.r","as":"py"}],"mark":{"type":"text","font":"Liberation Sans","fontSize":16,"fill":"#404040","align":"right","baseline":"middle"},"encoding":{"text":{"field":"r","type":"nominal"}}},
{"data":{"name":"vals"},"transform":[{"filter":"datum.p==7"},{"calculate":"(datum.k-1)*2*PI/14","as":"a"},{"calculate":"datum.v*sin(datum.a)","as":"px"},{"calculate":"datum.v*cos(datum.a)","as":"py"}],"mark":{"type":"line","interpolate":"linear-closed","strokeWidth":3.5},"encoding":{"color":{"field":"s","type":"nominal","scale":{"domain":["Baixa","Média-baixa","Média-alta","Alta"],"range":["#000000","#00b0f0","#92d050","#ff0000"]},"legend":null},"order":{"field":"k","type":"quantitative"}}},
{"data":{"values":[{"t":"Empresas\nestrangeiras\nsem\ncooperação"}]},"transform":[{"calculate":"-229.9","as":"px"},{"calculate":"100.9","as":"py"}],"mark":{"type":"text","font":"Liberation Serif","fontSize":28,"lineBreak":"\n","lineHeight":34,"align":"left","baseline":"alphabetic","fill":"#000000"},"encoding":{"text":{"field":"t","type":"nominal"}}}
]},
{"width":507,"height":340,
"encoding":{"x":{"field":"px","type":"quantitative","scale":{"domain":[-236.3,139.3],"nice":false,"zero":false},"axis":null},"y":{"field":"py","type":"quantitative","scale":{"domain":[-128.7,123.2],"nice":false,"zero":false},"axis":null}},
"layer":[
{"data":{"name":"rings"},"transform":[{"flatten":["k"]},{"calculate":"(datum.k-1)*2*PI/14","as":"a"},{"calculate":"datum.r*sin(datum.a)","as":"px"},{"calculate":"datum.r*cos(datum.a)","as":"py"}],"mark":{"type":"line","interpolate":"linear-closed","stroke":"#d9d9d9","strokeWidth":1},"encoding":{"detail":{"field":"r","type":"quantitative"},"order":{"field":"k","type":"quantitative"}}},
{"data":{"name":"spokes"},"transform":[{"calculate":"(datum.k-1)*2*PI/14","as":"a"},{"calculate":"0","as":"px"},{"calculate":"0","as":"py"},{"calculate":"100*sin(datum.a)","as":"ex"},{"calculate":"100*cos(datum.a)","as":"ey"}],"mark":{"type":"rule","stroke":"#d0d0d0","strokeWidth":1},"encoding":{"x2":{"field":"ex"},"y2":{"field":"ey"}}},
{"data":{"name":"ticks"},"transform":[{"flatten":["t"]},{"calculate":"(datum.k-1)*2*PI/14","as":"a"},{"calculate":"datum.t*sin(datum.a)","as":"px"},{"calculate":"datum.t*cos(datum.a)","as":"py"},{"calculate":"(datum.k-1)*360/14","as":"ang"}],"mark":{"type":"point","shape":"stroke","size":36,"filled":false,"stroke":"#b4b4b4","strokeWidth":1,"opacity":1},"encoding":{"angle":{"field":"ang","type":"quantitative","scale":null}}},
{"data":{"name":"spokes"},"transform":[{"calculate":"(datum.k-1)*2*PI/14","as":"a"},{"calculate":"106+(datum.k==1?9:0)+(datum.k==8?7:0)+(datum.k>=10?3:0)","as":"rr"},{"calculate":"datum.rr*sin(datum.a)","as":"px"},{"calculate":"datum.rr*cos(datum.a)","as":"py"}],"mark":{"type":"text","clip":true,"font":"Liberation Sans","fontSize":16,"fill":"#404040","align":"center","baseline":"middle"},"encoding":{"text":{"field":"k","type":"nominal"}}},
{"data":{"name":"levels"},"transform":[{"calculate":"-13","as":"px"},{"calculate":"datum.r","as":"py"}],"mark":{"type":"text","font":"Liberation Sans","fontSize":16,"fill":"#404040","align":"right","baseline":"middle"},"encoding":{"text":{"field":"r","type":"nominal"}}},
{"data":{"name":"vals"},"transform":[{"filter":"datum.p==8"},{"calculate":"(datum.k-1)*2*PI/14","as":"a"},{"calculate":"datum.v*sin(datum.a)","as":"px"},{"calculate":"datum.v*cos(datum.a)","as":"py"}],"mark":{"type":"line","interpolate":"linear-closed","strokeWidth":3.5},"encoding":{"color":{"field":"s","type":"nominal","scale":{"domain":["Baixa","Média-baixa","Média-alta","Alta"],"range":["#000000","#00b0f0","#92d050","#ff0000"]},"legend":null},"order":{"field":"k","type":"quantitative"}}},
{"data":{"values":[{"t":"Empresas\nnacionais\nsem\ncooperação"}]},"transform":[{"calculate":"-228.9","as":"px"},{"calculate":"96.2","as":"py"}],"mark":{"type":"text","font":"Liberation Serif","fontSize":28,"lineBreak":"\n","lineHeight":34,"align":"left","baseline":"alphabetic","fill":"#000000"},"encoding":{"text":{"field":"t","type":"nominal"}}}
]},
{"width":180,"height":340,"view":{"stroke":null},
"resolve":{"scale":{"y":"independent"}},
"layer":[
{"data":{"values":[{"t":"Ano: 2014"}]},"mark":{"type":"text","font":"Liberation Serif","fontSize":30,"fontWeight":"bold","align":"left","baseline":"middle","fill":"#000000"},"encoding":{"x":{"datum":12,"type":"quantitative","scale":{"domain":[0,180],"nice":false,"zero":false},"axis":null},"y":{"datum":160,"type":"quantitative","scale":{"domain":[0,340],"reverse":true,"nice":false,"zero":false},"axis":null},"text":{"field":"t","type":"nominal"}}},
{"data":{"name":"legend"},"mark":{"type":"rect","stroke":"#595959","strokeWidth":1},"encoding":{"x":{"datum":-8,"type":"quantitative","scale":{"domain":[0,180],"nice":false,"zero":false},"axis":null},"x2":{"datum":32},"y":{"field":"s","type":"nominal","scale":{"domain":["Baixa","Média-baixa","Média-alta","Alta"],"range":[198,341],"paddingInner":0,"paddingOuter":0},"axis":null},"color":{"field":"s","type":"nominal","scale":{"domain":["Baixa","Média-baixa","Média-alta","Alta"],"range":["#000000","#00b0f0","#92d050","#ff0000"]},"legend":null}}},
{"data":{"name":"legend"},"mark":{"type":"text","font":"Liberation Serif","fontSize":28,"align":"left","baseline":"middle","fill":"#000000"},"encoding":{"x":{"datum":39,"type":"quantitative","scale":{"domain":[0,180],"nice":false,"zero":false},"axis":null},"y":{"field":"s","type":"nominal","scale":{"domain":["Baixa","Média-baixa","Média-alta","Alta"],"range":[198,341],"paddingInner":0,"paddingOuter":0},"axis":null},"text":{"field":"s","type":"nominal"}}}
]}
]}
]}
]
}
